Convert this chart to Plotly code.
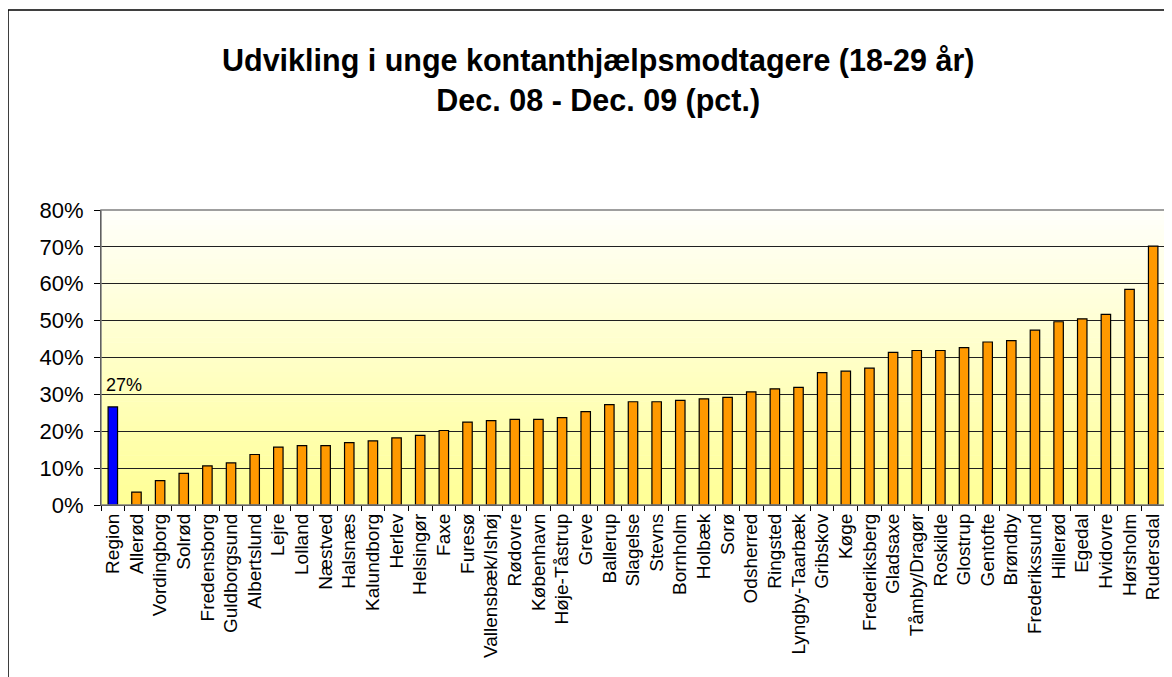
import plotly.graph_objects as go

categories = ["Region", "Allerød", "Vordingborg", "Solrød", "Fredensborg", "Guldborgsund",
              "Albertslund", "Lejre", "Lolland", "Næstved", "Halsnæs", "Kalundborg", "Herlev",
              "Helsingør", "Faxe", "Furesø", "Vallensbæk/Ishøj", "Rødovre", "København",
              "Høje-Tåstrup", "Greve", "Ballerup", "Slagelse", "Stevns", "Bornholm", "Holbæk",
              "Sorø", "Odsherred", "Ringsted", "Lyngby-Taarbæk", "Gribskov", "Køge",
              "Frederiksberg", "Gladsaxe", "Tåmby/Dragør", "Roskilde", "Glostrup", "Gentofte",
              "Brøndby", "Frederikssund", "Hillerød", "Egedal", "Hvidovre", "Hørsholm", "Rudersdal"]
values = [26.6, 3.5, 6.6, 8.6, 10.6, 11.4, 13.7, 15.7, 16.1, 16.1, 16.9, 17.4, 18.2,
          18.9, 20.2, 22.5, 22.9, 23.2, 23.2, 23.7, 25.3, 27.2, 28.0, 28.0, 28.4, 28.8,
          29.2, 30.7, 31.5, 31.9, 35.9, 36.3, 37.1, 41.4, 41.9, 41.9, 42.7, 44.2,
          44.6, 47.4, 49.7, 50.5, 51.7, 58.5, 70.2]
y_ticks = [0, 10, 20, 30, 40, 50, 60, 70, 80]
y_tick_labels = ["0%", "10%", "20%", "30%", "40%", "50%", "60%", "70%", "80%"]
title_lines = ["Udvikling i unge kontanthjælpsmodtagere (18-29 år)", "Dec. 08 - Dec. 09 (pct.)"]
region_label = "27%"

colors = ["#0000FF"] + ["#FF9900"] * (len(categories) - 1)

FONT = "Liberation Sans, Arial, sans-serif"

fig = go.Figure()
fig.add_trace(go.Bar(
    x=categories, y=values,
    marker=dict(color=colors, line=dict(color="#000000", width=1.2)),
    width=0.4,
    hoverinfo="x+y",
))

# gradient background bands (white at top -> pale yellow at bottom)
shapes = []
n = 60
top = (255, 255, 250)
bot = (255, 255, 150)
for i in range(n):
    t = i / (n - 1)
    r = round(bot[0] + (top[0] - bot[0]) * t)
    g = round(bot[1] + (top[1] - bot[1]) * t)
    b = round(bot[2] + (top[2] - bot[2]) * t)
    shapes.append(dict(type="rect", xref="x domain", yref="y domain",
                       x0=0, x1=1, y0=i / n, y1=(i + 1) / n + 0.002,
                       fillcolor=f"rgb({r},{g},{b})", line=dict(width=0), layer="below"))
# plot area border (grey)
shapes.append(dict(type="rect", xref="x domain", yref="y domain", x0=0, x1=1, y0=0, y1=1,
                   line=dict(color="#808080", width=1.5), fillcolor="rgba(0,0,0,0)", layer="above"))
# outer chart border
shapes.append(dict(type="rect", xref="paper", yref="paper", x0=-0.0874, x1=1.2, y0=-1.0, y1=1.678,
                   line=dict(color="#000000", width=1.5), fillcolor="rgba(0,0,0,0)", layer="below"))

fig.update_layout(
    width=1164, height=669,
    margin=dict(l=93, r=7, t=202, b=172),
    paper_bgcolor="white",
    plot_bgcolor="rgba(0,0,0,0)",
    font=dict(family=FONT, color="#000000"),
    showlegend=False,
    shapes=shapes,
    annotations=[
        dict(text="<b>" + title_lines[0] + "</b><br><b>" + title_lines[1] + "</b>",
             xref="paper", yref="paper", x=0.467, y=1.44, xanchor="center", yanchor="middle",
             showarrow=False, font=dict(size=30.5, family=FONT), align="center"),
        dict(text=region_label, x=categories[0], y=values[0], xref="x", yref="y",
             yshift=22, xshift=11, showarrow=False, font=dict(size=18, family=FONT)),
    ],
)
fig.update_xaxes(
    type="category", tickangle=-90, tickfont=dict(size=19, family=FONT),
    ticks="outside", ticklen=5, tickcolor="#000000", tickson="boundaries",
    showline=True, linecolor="#000000", linewidth=1.2, showgrid=False,
    range=[-0.5, len(categories) - 0.5],
)
fig.update_yaxes(
    range=[0, 80], tickvals=y_ticks, ticktext=y_tick_labels, tickfont=dict(size=22, family=FONT),
    ticks="outside", ticklen=6, tickcolor="#000000", ticklabelstandoff=6,
    showline=True, linecolor="#000000", linewidth=1.2,
    showgrid=True, gridcolor="#202020", gridwidth=1, zeroline=False,
)

fig.write_html("out.html")
